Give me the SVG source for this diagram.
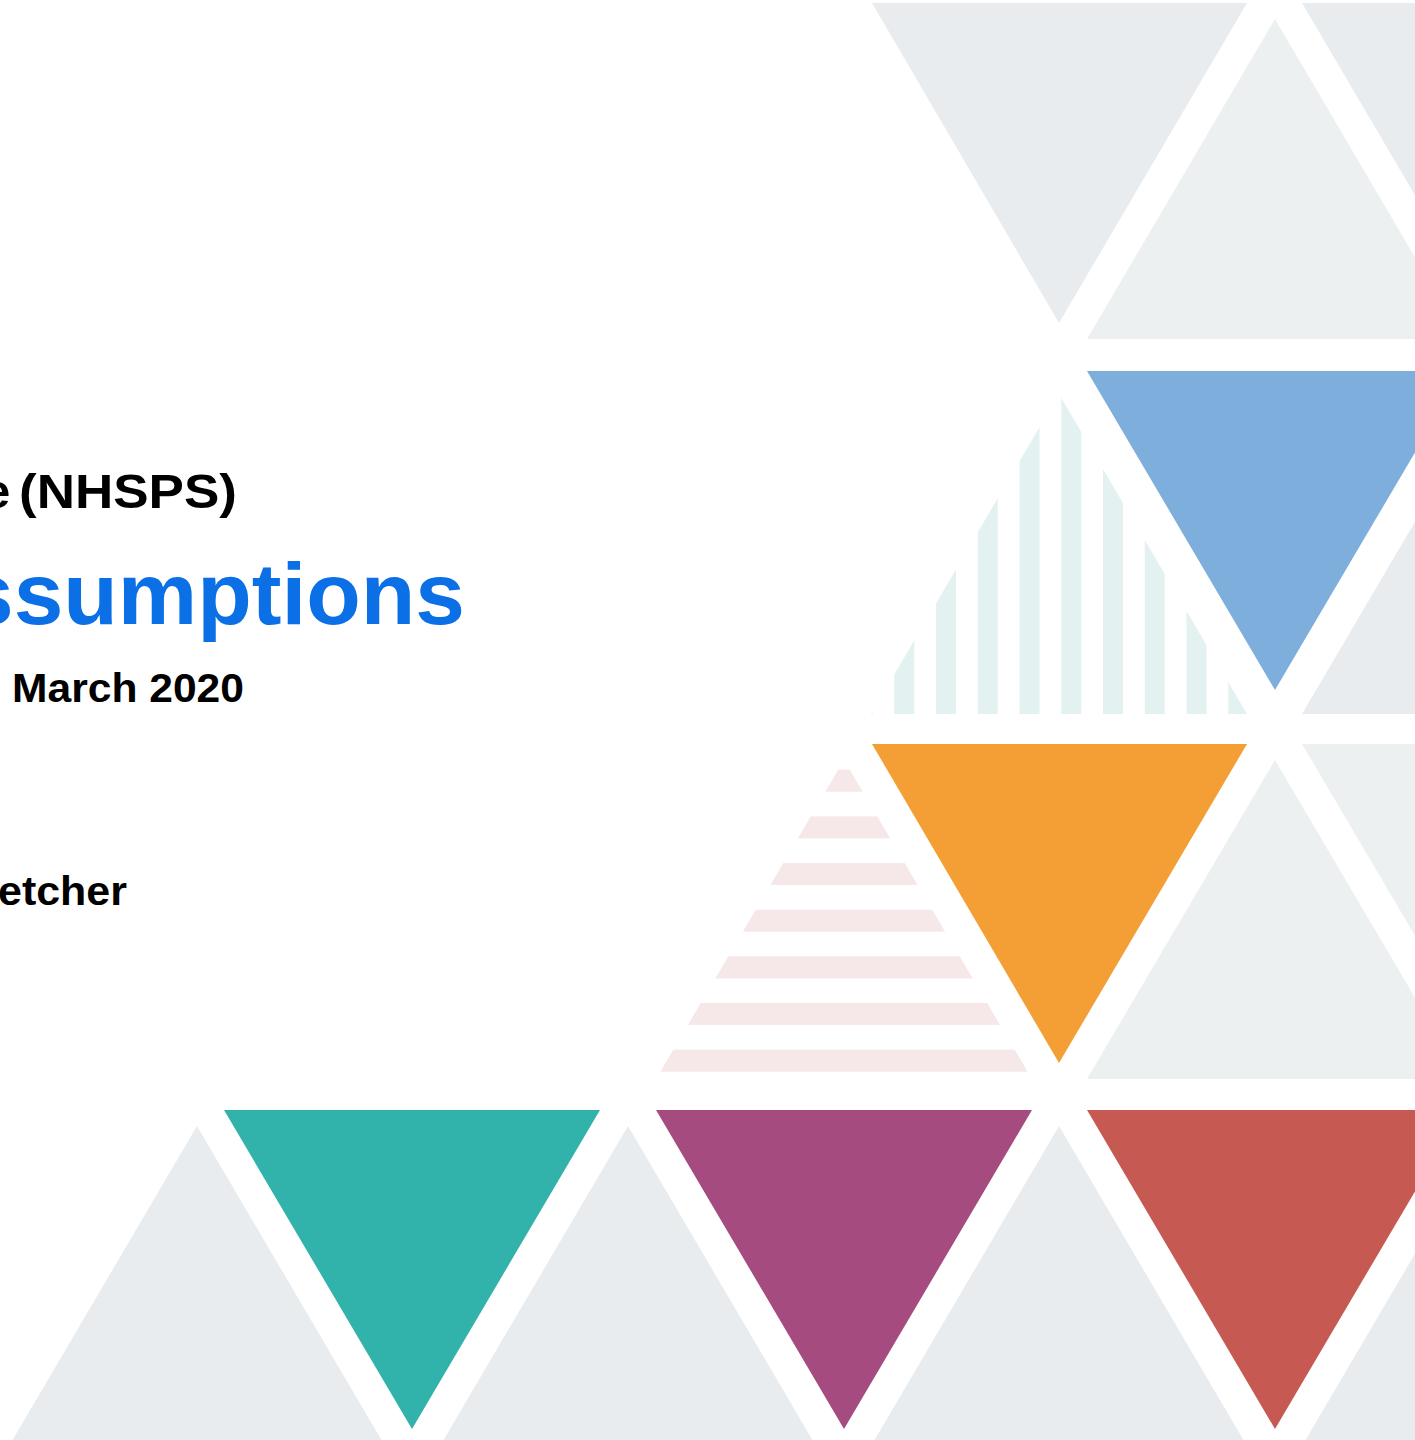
<svg xmlns="http://www.w3.org/2000/svg" width="1415" height="1440" viewBox="0 0 1415 1440">
<style>
.g1{fill:#e8ecef}
.g2{fill:#edf0f1}
.vs{fill:#e3f2f1}
.hs{fill:#f6e8e8}
.t{font-family:"Liberation Sans",Arial,sans-serif;font-weight:bold}
.blk{fill:#000000}
.blu{fill:#0b6fe6}
</style>
<defs>
<clipPath id="clipV"><polygon points="1059,394 1247,714 871,714"/></clipPath>
<clipPath id="clipH"><polygon points="844,760 1032,1079 656,1079"/></clipPath>
</defs>
<rect x="0" y="0" width="1415" height="1440" fill="#ffffff"/>

<g id="row1">
<polygon id="r1-down-a" class="g1" points="872,3 1247,3 1059,323"/>
<polygon id="r1-up-b" class="g2" points="1275,19 1463,339 1087,339"/>
<polygon id="r1-down-c" class="g1" points="1302,3 1678,3 1490,323"/>
</g>

<g id="row2">
<g id="r2-striped-up" clip-path="url(#clipV)">
<rect class="vs" x="852.5" y="390" width="20" height="324"/>
<rect class="vs" x="894.25" y="390" width="20" height="324"/>
<rect class="vs" x="936" y="390" width="20" height="324"/>
<rect class="vs" x="977.75" y="390" width="20" height="324"/>
<rect class="vs" x="1019.5" y="390" width="20" height="324"/>
<rect class="vs" x="1061.25" y="390" width="20" height="324"/>
<rect class="vs" x="1103" y="390" width="20" height="324"/>
<rect class="vs" x="1144.75" y="390" width="20" height="324"/>
<rect class="vs" x="1186.5" y="390" width="20" height="324"/>
<rect class="vs" x="1228.25" y="390" width="20" height="324"/>
</g>
<polygon id="r2-blue" fill="#7eaedc" points="1087,371 1463,371 1275,690"/>
<polygon id="r2-up-right" class="g1" points="1490,394 1678,714 1302,714"/>
</g>

<g id="row3">
<g id="r3-striped-up" clip-path="url(#clipH)">
<rect class="hs" x="650" y="769.7" width="390" height="22"/>
<rect class="hs" x="650" y="816.4" width="390" height="22"/>
<rect class="hs" x="650" y="863" width="390" height="22"/>
<rect class="hs" x="650" y="909.7" width="390" height="22"/>
<rect class="hs" x="650" y="956.4" width="390" height="22"/>
<rect class="hs" x="650" y="1003" width="390" height="22"/>
<rect class="hs" x="650" y="1049.7" width="390" height="22"/>
</g>
<polygon id="r3-orange" fill="#f49f35" points="872,744 1247,744 1059,1063"/>
<polygon id="r3-up-gray" class="g2" points="1275,760 1463,1079 1087,1079"/>
<polygon id="r3-down-right" class="g2" points="1302,744 1678,744 1490,1063"/>
</g>

<g id="row4">
<polygon id="r4-up-1" class="g1" points="197,1126 385,1446 9,1446"/>
<polygon id="r4-up-2" class="g1" points="628,1126 816,1446 440,1446"/>
<polygon id="r4-up-3" class="g1" points="1059,1126 1247,1446 871,1446"/>
<polygon id="r4-up-4" class="g1" points="1490,1126 1678,1446 1302,1446"/>
<polygon id="r4-teal" fill="#31b2ab" points="224,1110 600,1110 412,1429"/>
<polygon id="r4-purple" fill="#a64b80" points="656,1110 1032,1110 844,1429"/>
<polygon id="r4-red" fill="#c65a53" points="1087,1110 1463,1110 1275,1429"/>
</g>

<g id="texts">
<text id="t-org" class="t blk" font-size="49" y="508"><tspan x="-17">e</tspan> <tspan x="19" textLength="218" lengthAdjust="spacingAndGlyphs">(NHSPS)</tspan></text>
<text id="t-title" class="t blu" font-size="88" x="-36" y="624" textLength="501" lengthAdjust="spacingAndGlyphs">ssumptions</text>
<text id="t-date" class="t blk" font-size="40" x="12" y="702" textLength="232" lengthAdjust="spacingAndGlyphs">March 2020</text>
<text id="t-author" class="t blk" font-size="40" x="-2" y="905" textLength="129" lengthAdjust="spacingAndGlyphs">etcher</text>
</g>
</svg>
